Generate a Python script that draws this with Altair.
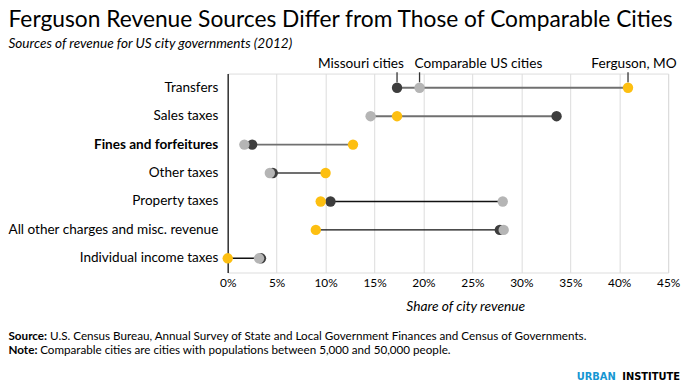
import altair as alt
import pandas as pd

categories = ["Transfers", "Sales taxes", "Fines and forfeitures", "Other taxes",
              "Property taxes", "All other charges and misc. revenue", "Individual income taxes"]
ferguson = [40.9, 17.3, 12.8, 10.0, 9.5, 9.0, 0.0]
missouri = [17.3, 33.6, 2.5, 4.6, 10.5, 27.8, 3.4]
comparable = [19.6, 14.6, 1.7, 4.3, 28.1, 28.2, 3.2]
series_names = ["Missouri cities", "Comparable US cities", "Ferguson, MO"]
series_colors = ["#3d3d3d", "#b5b5b5", "#fdbf11"]
x_ticks = [0, 5, 10, 15, 20, 25, 30, 35, 40, 45]

title_text = "Ferguson Revenue Sources Differ from Those of Comparable Cities"
subtitle_text = "Sources of revenue for US city governments (2012)"
source_text = "U.S. Census Bureau, Annual Survey of State and Local Government Finances and Census of Governments."
note_text = "Comparable cities are cities with populations between 5,000 and 50,000 people."

rows = []
for name, vals in zip(series_names, [missouri, comparable, ferguson]):
    for c, v in zip(categories, vals):
        rows.append({"category": c, "series": name, "value": v})
long_df = pd.DataFrame(rows)

seg_df = pd.DataFrame({
    "category": categories,
    "lo": [min(a, b, c) for a, b, c in zip(ferguson, missouri, comparable)],
    "hi": [max(a, b, c) for a, b, c in zip(ferguson, missouri, comparable)],
})

top_df = long_df[long_df["category"] == categories[0]]

# page-coordinate layout
OX, OY = 230.0, 72.3
W, H = 445, 201
SVG_W, SVG_H = 681, 376
FONT = "Lato"

xscale = alt.Scale(domain=[0, 45], nice=False)
yscale = alt.Scale(domain=categories, paddingInner=0, paddingOuter=0)

x_axis = alt.Axis(values=x_ticks, labelExpr="datum.value + '%'", domain=False, ticks=False,
                  grid=True, gridColor="#dcdcdc", gridWidth=1, labelFontSize=12,
                  labelColor="#000", labelPadding=5, labelFlush=False, labelOverlap=False,
                  title="Share of city revenue",
                  titleFontStyle="italic", titleFontWeight="normal", titleFontSize=13.9,
                  titleColor="#000", titleX=470 - OX, titleY=312 - OY - H,
                  titleAlign="center", titleBaseline="alphabetic", titleAnchor="start")
y_axis = alt.Axis(title=None, ticks=False, labelPadding=10, labelFontSize=13.7, labelColor="#000",
                  domainColor="#333", domainWidth=1.5, grid=False, labelLimit=300,
                  labelFontWeight=alt.expr("datum.value == 'Fines and forfeitures' ? 'bold' : 'normal'"))

is_top4 = alt.FieldOneOfPredicate(field="category", oneOf=categories[:4])
segs = alt.Chart(seg_df).mark_rule().encode(
    x=alt.X("lo:Q", scale=xscale, axis=x_axis),
    x2="hi:Q",
    y=alt.Y("category:N", scale=yscale, axis=y_axis, sort=categories),
    color=alt.condition(is_top4, alt.value("#707070"), alt.value("#111111")),
    strokeWidth=alt.condition(is_top4, alt.value(2), alt.value(1.5)),
)

points = alt.Chart(long_df).mark_circle(size=110, opacity=1).encode(
    x=alt.X("value:Q", scale=xscale),
    y=alt.Y("category:N", scale=yscale, sort=categories),
    color=alt.Color("series:N", scale=alt.Scale(domain=series_names, range=series_colors), legend=None),
)

top_ticks = alt.Chart(top_df).mark_rule(color="#333", strokeWidth=1.3).encode(
    x=alt.X("value:Q", scale=xscale),
    y=alt.value(71 - OY), y2=alt.value(81 - OY),
)

def top_label(name, align, dx):
    return alt.Chart(top_df[top_df["series"] == name]).mark_text(
        align=align, baseline="alphabetic", dx=dx, font=FONT, fontSize=13.8, color="#000"
    ).encode(x=alt.X("value:Q", scale=xscale), y=alt.value(66.7 - OY), text="series:N")

lab1 = top_label(series_names[0], "right", 7)
lab2 = top_label(series_names[1], "left", -5)
lab3 = top_label(series_names[2], "center", 6)

def free_text(txt, x, y, size, align="left", weight="normal", style="normal", color="#000", font=FONT):
    return alt.Chart(pd.DataFrame({"t": [txt]})).mark_text(
        align=align, baseline="alphabetic", font=font, fontSize=size, fontWeight=weight,
        fontStyle=style, color=color
    ).encode(x=alt.value(x - OX), y=alt.value(y - OY), text="t:N")

L = 8.5
title = free_text(title_text, L, 25, 23)
subtitle = free_text(subtitle_text, L, 46.7, 13.7, style="italic")
src_b = free_text("Source:", L, 342, 11.8, weight="bold")
src = free_text(source_text, L + 42, 342, 11.8)
note_b = free_text("Note:", L, 355.5, 11.8, weight="bold")
note = free_text(note_text, L + 32, 355.5, 11.8)
urban = free_text("URBAN", 622, 382, 10, weight="bold", color="#1696d2",
                  align="right", font="DejaVu Sans")
inst = free_text("INSTITUTE", 687, 382, 10, weight="bold", color="#000",
                 align="right", font="DejaVu Sans")

chart = alt.layer(segs, points, top_ticks, lab1, lab2, lab3, title, subtitle,
                  src_b, src, note_b, note, urban, inst).properties(
    width=W, height=H,
    autosize=alt.AutoSizeParams(type="none"),
    padding={"left": OX - 8, "top": OY - 8, "right": SVG_W - (OX - 8) - W,
             "bottom": SVG_H - (OY - 8) - H},
).configure_view(stroke=None).configure(font=FONT)

chart.save("out.html", embed_options={"renderer": "svg", "actions": False})
